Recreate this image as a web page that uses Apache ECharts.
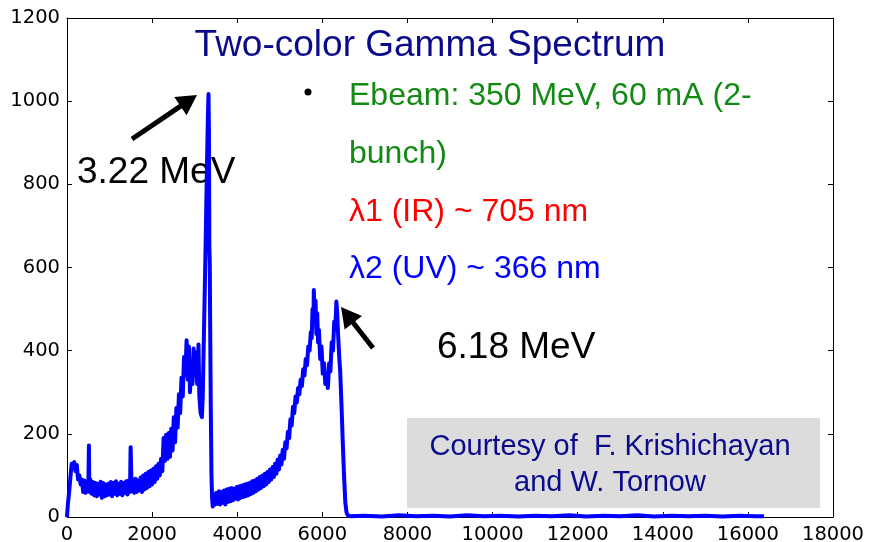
<!DOCTYPE html>
<html>
<head>
<meta charset="utf-8">
<script src="https://cdn.jsdelivr.net/npm/echarts@6/dist/echarts.min.js"></script>
<style>html,body{margin:0;padding:0;background:#fff;}#c{width:869px;height:542px;}</style>
</head>
<body>
<div id="c"></div>
<script>
const titleText = 'Two-color Gamma Spectrum';
const infoLines = ['Ebeam: 350 MeV, 60 mA (2-', 'bunch)', 'λ1 (IR) ~ 705 nm', 'λ2 (UV) ~ 366 nm'];
const peakLabels = ['3.22 MeV', '6.18 MeV'];
const courtesyLines = ['Courtesy of  F. Krishichayan', 'and W. Tornow'];
const xRange = [0, 18000, 2000];
const yRange = [0, 1200, 200];

// [channel, counts]
const spectrum = [
[0,0],[20,30],[50,60],[80,95],[110,128],[140,118],[170,132],[200,110],[230,125],[260,90],
[290,100],[320,78],[350,90],[380,60],[410,88],[440,58],[470,85],[500,62],[515,172],[525,60],
[550,90],[580,56],[610,84],[640,52],[670,82],[700,50],[730,80],[760,54],[790,85],[820,46],
[850,82],[880,50],[910,78],[940,52],[970,80],[1000,54],[1030,84],[1060,50],[1090,82],[1120,56],
[1150,86],[1180,52],[1210,80],[1240,56],[1270,85],[1300,52],[1330,82],[1360,58],[1390,86],[1420,54],
[1450,88],[1480,60],[1495,168],[1505,165],[1520,62],[1550,90],[1580,58],[1610,92],[1640,60],[1670,88],
[1700,64],[1730,95],[1760,60],[1790,100],[1820,66],[1850,104],[1880,70],[1910,108],[1940,74],[1970,112],
[2000,78],[2030,116],[2060,84],[2090,122],[2120,92],[2150,128],[2180,100],[2210,140],[2240,110],[2270,190],
[2300,135],[2330,198],[2360,140],[2390,202],[2420,145],[2450,212],[2480,160],[2510,240],[2540,180],[2570,262],
[2600,215],[2630,295],[2660,250],[2690,335],[2720,290],[2750,385],[2780,340],[2810,425],[2840,330],[2865,410],
[2890,300],[2920,375],[2950,320],[2975,405],[3000,340],[3030,395],[3060,320],[3090,415],[3110,290],[3140,250],
[3170,240],[3190,290],[3210,400],[3240,560],[3265,700],[3290,850],[3310,960],[3325,1017],[3335,930],[3345,650],
[3355,610],[3365,450],[3380,250],[3395,100],[3410,45],[3425,25],[3450,55],[3480,30],[3510,58],[3540,32],
[3570,62],[3600,30],[3630,60],[3660,34],[3690,64],[3720,30],[3750,66],[3780,36],[3810,68],[3840,38],
[3870,70],[3900,40],[3930,68],[3960,44],[3990,72],[4020,42],[4050,74],[4080,46],[4110,76],[4140,48],
[4170,78],[4200,50],[4230,80],[4260,52],[4290,82],[4320,55],[4350,86],[4380,58],[4410,88],[4440,62],
[4470,92],[4500,66],[4530,96],[4560,70],[4590,100],[4620,74],[4650,104],[4680,78],[4710,108],[4740,84],
[4770,114],[4800,90],[4830,120],[4860,96],[4890,128],[4920,104],[4950,138],[4980,114],[5010,148],[5040,126],
[5070,162],[5100,140],[5130,180],[5160,165],[5190,205],[5220,190],[5250,235],[5280,220],[5310,265],[5340,250],
[5370,290],[5400,275],[5430,310],[5460,295],[5490,330],[5520,315],[5550,355],[5580,340],[5610,380],[5640,365],
[5670,410],[5700,400],[5730,445],[5750,430],[5770,500],[5790,470],[5800,546],[5820,480],[5840,520],[5860,440],
[5880,490],[5900,420],[5920,450],[5950,380],[5980,410],[6010,345],[6040,370],[6070,320],[6100,345],[6130,310],
[6160,370],[6190,350],[6220,420],[6250,400],[6280,470],[6305,450],[6330,518],[6350,490],[6370,440],[6400,380],
[6420,350],[6450,270],[6480,180],[6510,100],[6540,35],[6570,10],[6600,4],[6650,2],[7000,3],[7400,1],
[7800,4],[8200,2],[8600,3],[9000,1],[9400,4],[9800,2],[10200,3],[10600,1],[11000,3],[11400,2],
[11800,4],[12200,1],[12600,3],[13000,2],[13400,4],[13800,1],[14200,3],[14600,2],[15000,3],[15400,1],
[15800,3],[16200,2],[16380,2]
];

const FONT = '"Liberation Sans", Arial, Helvetica, sans-serif';
const AXFONT = '"DejaVu Sans", sans-serif';
const chart = echarts.init(document.getElementById('c'), null, {renderer: 'canvas'});

function arrow(x1, y1, x2, y2) {
  const dx = x2 - x1, dy = y2 - y1, L = Math.hypot(dx, dy);
  const ux = dx / L, uy = dy / L, px = -uy, py = ux;
  const hl = 20, hw = 11;
  const bx = x2 - ux * hl, by = y2 - uy * hl;
  return [
    {type: 'line', shape: {x1: x1, y1: y1, x2: bx + ux * 2, y2: by + uy * 2}, style: {stroke: '#000', lineWidth: 5}, z: 10},
    {type: 'polygon', shape: {points: [[x2, y2], [bx + px * hw, by + py * hw], [bx - px * hw, by - py * hw]]}, style: {fill: '#000'}, z: 10}
  ];
}

const plain = function (v) { return String(v); };
const axisLineStyle = {color: '#000', width: 1};
chart.setOption({
  animation: false,
  backgroundColor: '#fff',
  grid: {left: 67, right: 36, top: 18, bottom: 25, containLabel: false, outerBoundsMode: 'none'},
  xAxis: [{
    type: 'value', min: xRange[0], max: xRange[1], interval: xRange[2],
    axisLine: {show: true, onZero: false, lineStyle: axisLineStyle},
    axisTick: {show: true, inside: true, length: 5, lineStyle: axisLineStyle},
    axisLabel: {color: '#000', fontSize: 19.5, fontFamily: AXFONT, margin: 8, formatter: plain},
    splitLine: {show: false}
  }, {
    type: 'value', position: 'top', min: xRange[0], max: xRange[1], interval: xRange[2],
    axisLine: {show: true, onZero: false, lineStyle: axisLineStyle},
    axisTick: {show: true, inside: true, length: 5, lineStyle: axisLineStyle},
    axisLabel: {show: false}, splitLine: {show: false}
  }],
  yAxis: [{
    type: 'value', min: yRange[0], max: yRange[1], interval: yRange[2],
    axisLine: {show: true, onZero: false, lineStyle: axisLineStyle},
    axisTick: {show: true, inside: true, length: 5, lineStyle: axisLineStyle},
    axisLabel: {color: '#000', fontSize: 19.5, fontFamily: AXFONT, margin: 7, formatter: plain},
    splitLine: {show: false}
  }, {
    type: 'value', position: 'right', min: yRange[0], max: yRange[1], interval: yRange[2],
    axisLine: {show: true, onZero: false, lineStyle: axisLineStyle},
    axisTick: {show: true, inside: true, length: 5, lineStyle: axisLineStyle},
    axisLabel: {show: false}, splitLine: {show: false}
  }],
  series: [{
    type: 'line', data: spectrum, xAxisIndex: 0, yAxisIndex: 0,
    showSymbol: false, symbol: 'none', sampling: null,
    lineStyle: {color: '#0000ff', width: 4, join: 'round'},
    z: 3
  }],
  graphic: [
    {type: 'rect', shape: {x: 407, y: 418, width: 413, height: 90}, style: {fill: '#dcdcdc'}, z: 1},
    {type: 'text', x: 610, y: 447, style: {text: courtesyLines[0], fill: '#0a0a8c', font: '29px ' + FONT, textAlign: 'center', textVerticalAlign: 'middle'}, z: 10},
    {type: 'text', x: 610, y: 483, style: {text: courtesyLines[1], fill: '#0a0a8c', font: '29px ' + FONT, textAlign: 'center', textVerticalAlign: 'middle'}, z: 10},
    {type: 'text', x: 430, y: 46, style: {text: titleText, fill: '#0a0a8c', font: '37px ' + FONT, textAlign: 'center', textVerticalAlign: 'middle'}, z: 10},
    {type: 'circle', shape: {cx: 308, cy: 92, r: 3.5}, style: {fill: '#000'}, z: 10},
    {type: 'text', x: 349, y: 96, style: {text: infoLines[0], fill: '#138a13', font: '32px ' + FONT, textAlign: 'left', textVerticalAlign: 'middle'}, z: 10},
    {type: 'text', x: 349, y: 154, style: {text: infoLines[1], fill: '#138a13', font: '32px ' + FONT, textAlign: 'left', textVerticalAlign: 'middle'}, z: 10},
    {type: 'text', x: 349, y: 212, style: {text: infoLines[2], fill: '#ff0000', font: '32px ' + FONT, textAlign: 'left', textVerticalAlign: 'middle'}, z: 10},
    {type: 'text', x: 349, y: 269, style: {text: infoLines[3], fill: '#0000ff', font: '32px ' + FONT, textAlign: 'left', textVerticalAlign: 'middle'}, z: 10},
    {type: 'text', x: 77, y: 173, style: {text: peakLabels[0], fill: '#000', font: '37px ' + FONT, textAlign: 'left', textVerticalAlign: 'middle'}, z: 2},
    {type: 'text', x: 437, y: 348, style: {text: peakLabels[1], fill: '#000', font: '37px ' + FONT, textAlign: 'left', textVerticalAlign: 'middle'}, z: 10}
  ].concat(arrow(132, 139, 197, 95)).concat(arrow(373, 348, 341, 307))
});
</script>
</body>
</html>
